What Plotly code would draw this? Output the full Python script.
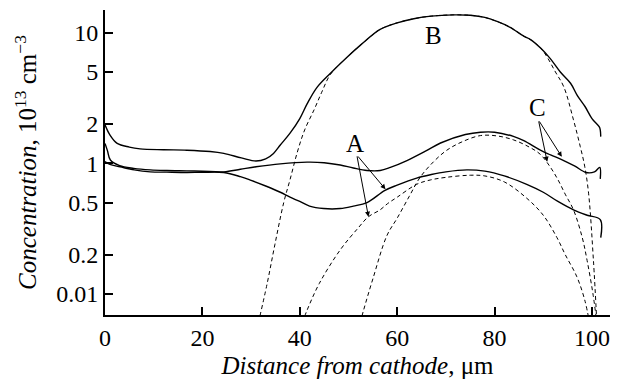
import plotly.graph_objects as go

# ---- data (x in µm, y in 10^13 cm^-3) ----
b_solid_x = [0, 1, 2.5, 5, 7.2, 12, 16.8, 21.6, 24.4, 28, 31, 33, 34.6, 36, 38, 40, 41.5, 43.5, 46.3,
             49.7, 52.4, 56.5, 60, 63.4, 67, 71.5, 75, 78, 80.5, 83.2, 86, 87.3, 89.5, 91.4, 93.5,
             95.6, 97, 98.6, 100, 101.5, 101.7, 101.8]
b_solid_y = [1.97, 1.65, 1.42, 1.33, 1.29, 1.27, 1.26, 1.23, 1.19, 1.10, 1.04, 1.08, 1.19, 1.38, 1.7,
             2.2, 2.85, 3.8, 4.9, 6.5, 8.0, 10.6, 11.9, 12.8, 13.4, 13.7, 13.6, 13.1, 12.2, 11.0, 9.4,
             8.9, 7.6, 6.36, 5.0, 4.1, 3.3, 2.71, 2.2, 1.9, 1.8, 1.6]

b_dash_x = [31.5, 33.3, 34.9, 36.7, 38, 39.5, 41, 43, 44.5, 46.3, 49.7, 52.4, 56.5, 60, 63.4, 67, 71.5,
            75, 78, 80.5, 83.2, 86, 87.3, 89.5, 90.8, 92.5, 94.2, 96.2, 97.6, 98.5, 99.3, 100.3, 101]
b_dash_y = [0.06, 0.12, 0.24, 0.50, 0.75, 1.22, 1.8, 2.6, 3.5, 4.8, 6.5, 8.0, 10.6, 11.9, 12.8, 13.4,
            13.7, 13.6, 13.1, 12.2, 11.0, 9.4, 8.9, 7.6, 6.5, 5.0, 3.86, 2.15, 1.34, 0.95, 0.59, 0.18, 0.06]

a_solid_x = [0, 1, 3.1, 6, 9.3, 12.7, 16.8, 20, 24.4, 27.8, 30, 33, 36, 38, 40, 42, 44.9, 48.3, 51,
             53.8, 57.5, 60, 64, 67, 70, 74.3, 78, 82, 86.6, 90, 93, 96.2, 99, 101.7, 101.8]
a_solid_y = [1.03, 0.98, 0.94, 0.89, 0.86, 0.855, 0.85, 0.853, 0.85, 0.79, 0.74, 0.67, 0.60, 0.55,
             0.51, 0.47, 0.45, 0.45, 0.47, 0.50, 0.62, 0.68, 0.77, 0.82, 0.86, 0.89, 0.87, 0.80, 0.69,
             0.60, 0.51, 0.44, 0.40, 0.37, 0.27]

a_dash_x = [40.5, 41.5, 44, 48.3, 52, 54.1, 56.5, 58, 60, 64, 66.8, 70, 75, 78, 82, 86.6, 90, 92.8,
            94.5, 96.9, 98.5, 99.5]
a_dash_y = [0.06, 0.075, 0.12, 0.217, 0.32, 0.39, 0.44, 0.49, 0.55, 0.69, 0.745, 0.78, 0.81, 0.80,
            0.72, 0.54, 0.40, 0.27, 0.2, 0.135, 0.09, 0.06]

c_solid_x = [0, 0.5, 1.1, 3, 5.9, 9.3, 12.7, 16.8, 20, 24.4, 27.8, 31, 36, 41.5, 45, 48.3, 51, 53.8,
             56.5, 58.6, 62, 66, 68.9, 74, 77.1, 80, 84, 86, 89.4, 91.5, 94.2, 96.5, 98.8, 100.5,
             101.6, 101.7]
c_solid_y = [1.42, 1.25, 1.06, 0.96, 0.915, 0.89, 0.88, 0.875, 0.87, 0.86, 0.90, 0.94, 0.99, 1.02,
             1.01, 0.97, 0.92, 0.88, 0.88, 0.93, 1.05, 1.25, 1.43, 1.66, 1.73, 1.73, 1.6, 1.49, 1.26,
             1.16, 1.05, 0.95, 0.85, 0.86, 0.93, 0.76]

c_dash_x = [52.4, 53.1, 55, 57.9, 60, 62.5, 64.7, 67.5, 70.2, 73.5, 77.1, 80.5, 83.9, 87.3, 89.4,
            91.4, 93, 94.5, 96.2, 98, 99, 100.2, 101]
c_dash_y = [0.06, 0.075, 0.13, 0.28, 0.38, 0.56, 0.78, 1.03, 1.26, 1.47, 1.63, 1.62, 1.51, 1.32,
            1.17, 0.94, 0.75, 0.58, 0.44, 0.27, 0.18, 0.10, 0.06]

x_ticks = [0, 20, 40, 60, 80, 100]
y_tickvals = [0.1, 0.2, 0.5, 1, 2, 5, 10]
y_ticktext = ["0.01", "0.2", "0.5", "1", "2", "5", "10"]

FONT = "Liberation Serif"
FS = 24
TS = 25

fig = go.Figure()
dash_style = dict(color="black", width=1, dash="4px,3px")
solid_style = dict(color="black", width=1.4)
for xs, ys in [(b_dash_x, b_dash_y), (a_dash_x, a_dash_y), (c_dash_x, c_dash_y)]:
    fig.add_trace(go.Scatter(x=xs, y=ys, mode="lines", line=dash_style, line_shape="spline",
                             hoverinfo="skip"))
for xs, ys in [(b_solid_x, b_solid_y), (a_solid_x, a_solid_y), (c_solid_x, c_solid_y)]:
    fig.add_trace(go.Scatter(x=xs, y=ys, mode="lines", line=solid_style, line_shape="spline",
                             hoverinfo="skip"))

ann = []
for txt, x, y in [("B", 67.4, 0.982), ("A", 51.4, 0.155), ("C", 88.8, 0.431)]:
    ann.append(dict(text=txt, x=x, y=y, xref="x", yref="y", showarrow=False,
                    font=dict(family=FONT, size=25, color="black")))
for (tx, ty, sx, sy) in [(57.6, -0.199, 51.7, 0.064), (54.1, -0.409, 51.7, 0.064),
                         (93.8, 0.050, 89.0, 0.332), (90.8, 0.012, 89.0, 0.332)]:
    ann.append(dict(text="", x=tx, y=ty, ax=sx, ay=sy, xref="x", yref="y", axref="x", ayref="y",
                    showarrow=True, arrowhead=2, arrowsize=1, arrowwidth=1, arrowcolor="black",
                    standoff=0, startstandoff=0))

fig.update_layout(
    width=620, height=379,
    margin=dict(l=105, r=10, t=10, b=64, autoexpand=False),
    paper_bgcolor="white", plot_bgcolor="white",
    showlegend=False,
    font=dict(family=FONT, size=FS, color="black"),
    annotations=ann,
    xaxis=dict(range=[0, 103.7], tickvals=x_ticks, ticks="inside", ticklen=8, tickwidth=1.5,
               tickcolor="black", showline=True, linecolor="black", linewidth=2,
               showgrid=False, zeroline=False, tickfont=dict(family=FONT, size=FS),
               automargin=False,
               title=dict(text="<i>Distance from cathode</i>, μm",
                          font=dict(family=FONT, size=TS), standoff=9)),
    yaxis=dict(type="log", range=[-1.162, 1.174], tickvals=y_tickvals, ticktext=y_ticktext,
               ticks="inside", ticklen=8, tickwidth=1.5, tickcolor="black",
               showline=True, linecolor="black", linewidth=2, showgrid=False, zeroline=False,
               tickfont=dict(family=FONT, size=FS), automargin=False,
               title=dict(text="<i>Concentration</i>, 10<sup>13</sup> cm<sup>−3</sup>",
                          font=dict(family=FONT, size=TS), standoff=12)),
)

fig.write_html("out.html")
